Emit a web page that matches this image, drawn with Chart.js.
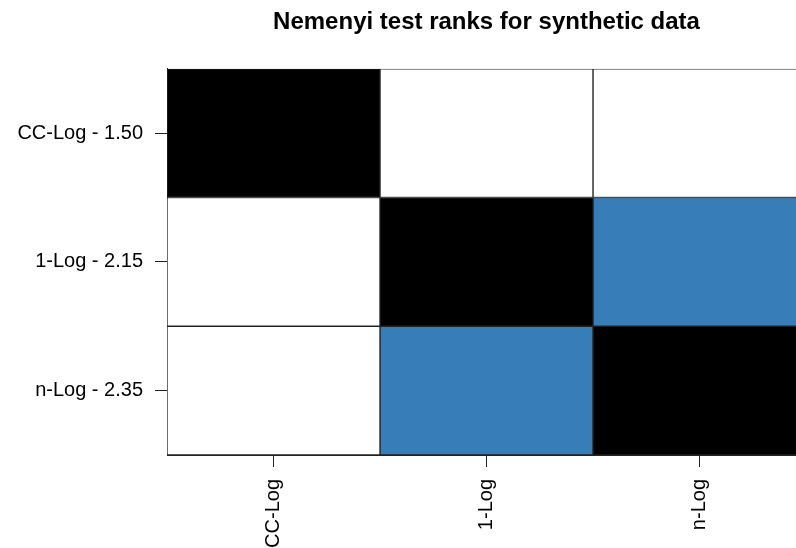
<!DOCTYPE html>
<html>
<head>
<meta charset="utf-8">
<script src="https://cdn.jsdelivr.net/npm/chart.js@4/dist/chart.umd.min.js"></script>
<style>
  html, body { margin: 0; padding: 0; background: #fff; overflow: hidden; }
  #wrap { width: 796px; height: 548px; position: relative; }
</style>
</head>
<body>
<div id="wrap"><canvas id="c" width="796" height="548"></canvas></div>
<script>
// ---- data ----
const chartTitle = 'Nemenyi test ranks for synthetic data';
const rowLabels = ['CC-Log - 1.50', '1-Log - 2.15', 'n-Log - 2.35'];
const colLabels = ['CC-Log', '1-Log', 'n-Log'];
// cell classes: 'self' = diagonal, 'diff' = significant difference, 'same' = no significant difference
const rowCC  = ['self', 'diff', 'diff'];
const row1   = ['diff', 'self', 'same'];
const rowN   = ['diff', 'same', 'self'];
const cellClasses = [rowCC, row1, rowN];
const classColors = { self: '#000000', diff: '#ffffff', same: '#377EB8' };
const xVisibleMax = 2.953; // the third column is cut off at the right edge

// ---- datasets: one per column, floating bars [j, j+1] for each row ----
const datasets = colLabels.map((c, j) => ({
  label: c,
  data: rowLabels.map(() => [j, j + 1]),
  backgroundColor: cellClasses.map(r => classColors[r[j]]),
  borderColor: '#222222',
  borderWidth: 1,
  borderSkipped: false,
  barPercentage: 1,
  categoryPercentage: 1,
  grouped: false
}));

const FONT = '"Liberation Sans", Arial, Helvetica, sans-serif';

const titleShift = {
  id: 'titleShift',
  afterLayout(chart) {
    const tb = chart.titleBlock;
    const xs = chart.scales.x;
    if (tb && xs) {
      tb.left = xs.getPixelForValue(0);
      tb.right = xs.getPixelForValue(colLabels.length);
    }
  }
};

new Chart(document.getElementById('c'), {
  type: 'bar',
  data: { labels: rowLabels, datasets },
  plugins: [titleShift],
  options: {
    indexAxis: 'y',
    responsive: false,
    animation: false,
    layout: { padding: 0 },
    plugins: {
      legend: { display: false },
      tooltip: { enabled: false },
      title: {
        display: true,
        text: chartTitle,
        color: '#000',
        font: { family: FONT, size: 24, weight: 'bold', lineHeight: 1.2 },
        padding: { top: 8, bottom: 32 }
      }
    },
    scales: {
      x: {
        type: 'linear',
        min: 0,
        max: xVisibleMax,
        afterBuildTicks(scale) {
          scale.ticks = colLabels.map((c, i) => ({ value: i + 0.5 }));
        },
        afterFit(scale) { scale.height = 93; },
        ticks: {
          autoSkip: false,
          minRotation: 90,
          maxRotation: 90,
          padding: 12,
          color: '#000',
          font: { family: FONT, size: 20 },
          callback: (v, i) => colLabels[i]
        },
        grid: { drawOnChartArea: false, drawTicks: true, tickLength: 12, tickColor: '#222', tickWidth: 1 },
        border: { display: true, color: '#222', width: 1 }
      },
      y: {
        type: 'category',
        offset: true,
        afterFit(scale) { scale.width = 167; },
        ticks: {
          padding: 12,
          color: '#000',
          font: { family: FONT, size: 20 }
        },
        grid: { drawOnChartArea: false, offset: false, drawTicks: true, tickLength: 12, tickColor: '#222', tickWidth: 1 },
        border: { display: true, color: '#222', width: 1 }
      }
    }
  }
});
</script>
</body>
</html>
